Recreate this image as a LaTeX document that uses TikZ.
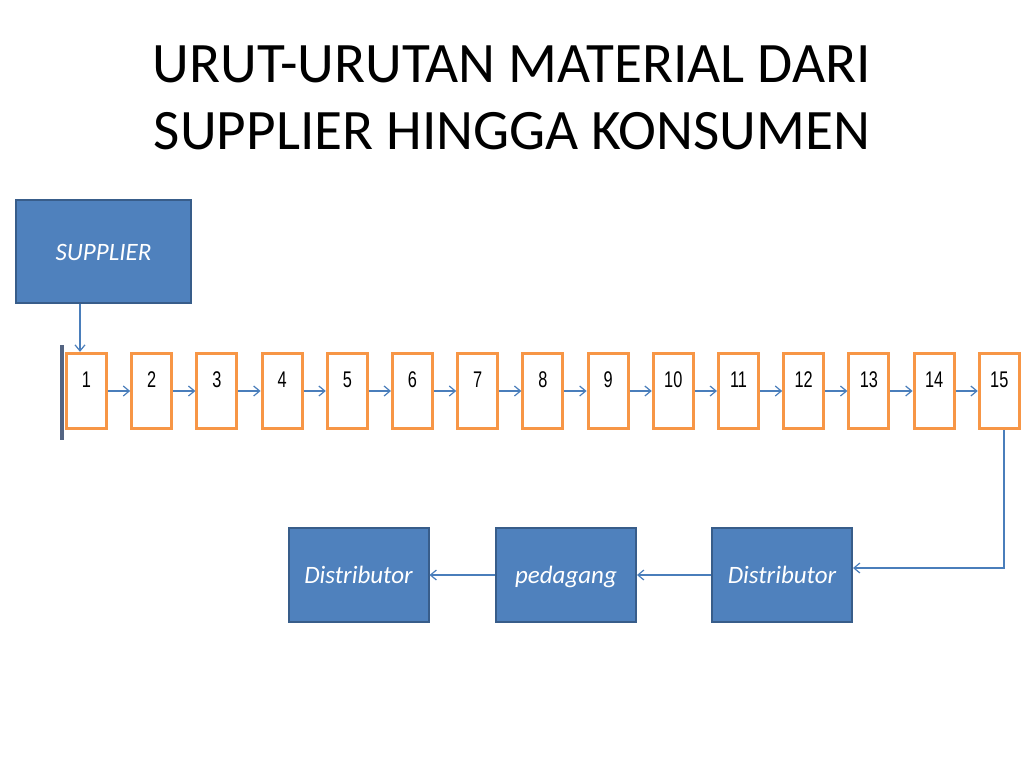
\documentclass[tikz,border=0pt]{standalone}
\usepackage{fontspec}
\setmainfont{Carlito}
\newfontfamily\narrowfont[FakeStretch=0.72]{Liberation Sans}
\usetikzlibrary{arrows.meta}
\definecolor{boxblue}{HTML}{4F81BD}
\definecolor{boxedge}{HTML}{385D8A}
\definecolor{orangeedge}{HTML}{F79646}
\definecolor{arrowblue}{HTML}{4A7EBB}
\definecolor{barcol}{RGB}{84,100,130}
\tikzset{
  titletext/.style={font=\fontsize{42.9}{50}\selectfont, text=black, inner sep=0pt, anchor=base},
  bluebox/.style={draw=boxedge, fill=boxblue, line width=1.5pt, minimum width=105pt, minimum height=70pt, inner sep=0pt,
    text=white, font=\fontsize{18.75}{22}\selectfont\itshape, text height=14.5pt, text depth=1.5pt},
  orangebox/.style={draw=orangeedge, fill=white, line width=2.3pt, minimum width=30pt, minimum height=56.5pt, inner sep=0pt},
  numlabel/.style={font=\narrowfont\fontsize{17}{18}\selectfont, text=black, inner sep=0pt},
  arr/.style={draw=arrowblue, line width=1pt, -{Straight Barb[length=4.5pt,width=7.5pt,line width=0.9pt]}},
}
\begin{document}
\begin{tikzpicture}[x=0.75pt,y=-0.75pt]
\useasboundingbox (0,0) rectangle (1024,768);
\fill[white] (0,0) rectangle (1024,768);
% title
\node[titletext] (t1) at (511.5,82) {URUT-URUTAN MATERIAL DARI};
\node[titletext] (t2) at (512,149) {SUPPLIER HINGGA KONSUMEN};
% supplier
\node[bluebox, minimum width=131pt, minimum height=77pt] (sup) at (103.5,251.5) {SUPPLIER};
% vertical bar
\draw[barcol, line width=2.4pt] (62,345) -- (62,440);
% chain of boxes
\foreach \i in {1,...,15} {
  \pgfmathsetmacro{\cx}{86.5+(\i-1)*65.2}
  \node[orangebox] (b\i) at (\cx,391) {};
  \node[numlabel] (n\i) at (\cx,380) {\i};
}
\foreach \i [evaluate=\i as \j using int(\i+1)] in {1,...,14} {
  \draw[arr] (b\i.east) -- (b\j.west);
}
% supplier arrow
\draw[arr] (sup.south -| 80,0) -- (b1.north -| 80,0);
% bottom boxes
\node[bluebox] (d3) at (782,575) {Distributor};
\node[bluebox] (ped) at (566,575) {pedagang};
\node[bluebox] (d1) at (358.5,575) {Distributor};
\draw[arr] ([xshift=3.5pt]b15.south) |- ([yshift=5.25pt]d3.east);
\draw[arr] (d3.west) -- (ped.east);
\draw[arr] (ped.west) -- (d1.east);
\end{tikzpicture}
\end{document}
